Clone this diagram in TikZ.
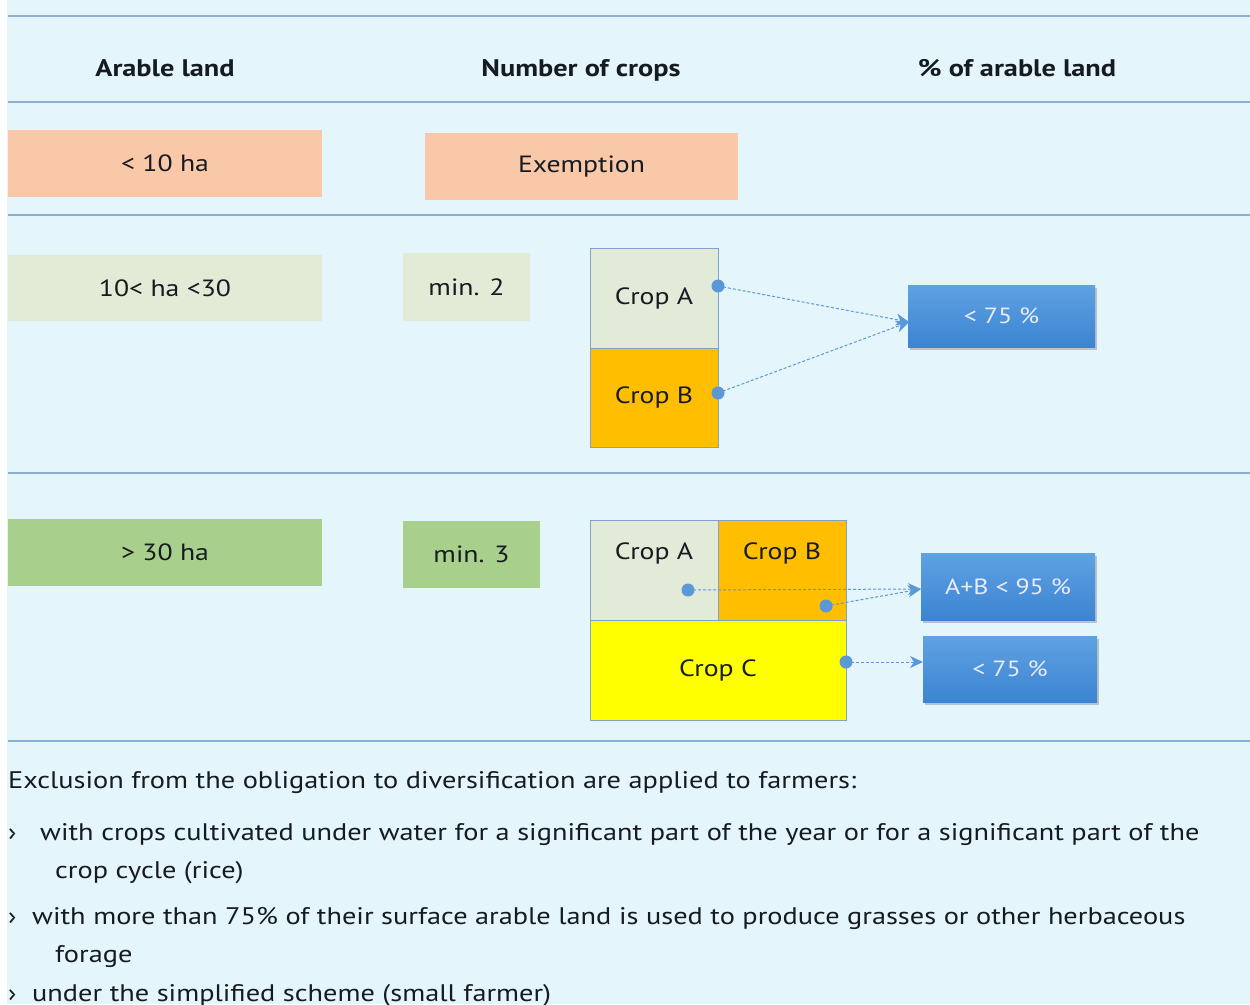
\documentclass[tikz,border=0pt]{standalone}
\usepackage{fontspec}
\setmainfont{PT Sans}[FakeStretch=1.18]
\usetikzlibrary{arrows.meta,shadows}

\definecolor{pagebg}{HTML}{E4F5FC}
\definecolor{rule}{HTML}{8CB0D2}
\definecolor{peach}{HTML}{F8C8A8}
\definecolor{palegreen}{HTML}{E2EBD6}
\definecolor{midgreen}{HTML}{A8D08C}
\definecolor{cropA}{HTML}{E2EAD8}
\definecolor{cropB}{HTML}{FFBF00}
\definecolor{cropC}{HTML}{FFFF00}
\definecolor{cropedge}{HTML}{7FA2C8}
\definecolor{bluetop}{HTML}{5FA2E2}
\definecolor{bluebot}{HTML}{3C84D2}
\definecolor{dotblue}{HTML}{5B98D8}
\definecolor{ink}{HTML}{161B22}

\tikzset{
  hrule/.style={draw=rule, line width=2pt},
  cell/.style={anchor=north west, inner sep=0pt, outer sep=0pt, font=\fontsize{23.5}{27}\selectfont, text=ink},
  cropbox/.style={cell, draw=cropedge, line width=1pt},
  pctbox/.style={anchor=north west, inner sep=0pt, outer sep=0pt,
    top color=bluetop, bottom color=bluebot, draw=none,
    drop shadow={shadow xshift=2pt, shadow yshift=-3pt, opacity=0.35, fill=black!60},
    text=white!92!blue, font=\fontsize{22}{26}\selectfont},
  dot/.style={circle, fill=dotblue, inner sep=0pt, minimum size=13pt},
  conn/.style={draw=dotblue, line width=1pt, dash pattern=on 3pt off 2pt,
    -{Stealth[length=13pt, width=12pt, inset=4pt]}},
  head/.style={font=\fontsize{24}{28}\selectfont\bfseries, text=ink},
  body/.style={anchor=base west, inner sep=0pt, font=\fontsize{24}{28}\selectfont, text=ink},
}

\begin{document}
\begin{tikzpicture}[x=1pt, y=-1pt]
  % page and clip
  \useasboundingbox (0,0) rectangle (1250,1004);
  \clip (0,0) rectangle (1250,1004);
  \fill[white] (0,0) rectangle (1250,1004);
  \fill[pagebg] (7,0) rectangle (1250,1004);

  % table rules
  \foreach \yy in {16,102,215,473,741}
    \draw[hrule] (8,\yy) -- (1250,\yy);

  % column headings
  \node[head, anchor=base] (h1) at (165,76) {Arable land};
  \node[head, anchor=base] (h2) at (581,76) {Number of crops};
  \node[head, anchor=base] (h3) at (1017,76) {\% of arable land};

  % row 1
  \node[cell, fill=peach, minimum width=314pt, minimum height=67pt] (r1a) at (8,130) {< 10 ha};
  \node[cell, fill=peach, minimum width=313pt, minimum height=67pt] (r1b) at (425,133) {Exemption};

  % row 2
  \node[cell, fill=palegreen, minimum width=314pt, minimum height=66pt] (r2a) at (8,255) {10< ha <30};
  \node[cell, fill=palegreen, minimum width=127pt, minimum height=68pt] (r2b) at (403,253) {min. 2};
  \node[cropbox, fill=cropA, minimum width=128pt, minimum height=100pt] (c2a) at (590,248) {Crop A};
  \node[cropbox, fill=cropB, minimum width=128pt, minimum height=99pt] (c2b) at (590,348) {Crop B};
  \node[pctbox, minimum width=187pt, minimum height=62pt] (p2) at (908,285) {< 75 \%};

  \node[dot] (d2a) at (718,286) {};
  \node[dot] (d2b) at (718,393) {};
  \coordinate (t2) at (909,322);
  \draw[conn] (d2a.center) -- (t2);
  \draw[conn] (d2b.center) -- (t2);

  % row 3
  \node[cell, fill=midgreen, minimum width=314pt, minimum height=67pt] (r3a) at (8,519) {> 30 ha};
  \node[cell, fill=midgreen, minimum width=137pt, minimum height=67pt] (r3b) at (403,521) {min. 3};
  \node[cropbox, fill=cropA, minimum width=128pt, minimum height=100pt, text depth=38pt] (c3a) at (590,520) {Crop A};
  \node[cropbox, fill=cropB, minimum width=128pt, minimum height=100pt, text depth=38pt] (c3b) at (718,520) {Crop B};
  \node[cropbox, fill=cropC, minimum width=256pt, minimum height=100pt] (c3c) at (590,620) {Crop C};
  \node[pctbox, minimum width=174pt, minimum height=67pt] (p3a) at (921,553) {A+B < 95 \%};
  \node[pctbox, minimum width=174pt, minimum height=66pt] (p3b) at (923,636) {< 75 \%};

  \node[dot] (d3a) at (688,590) {};
  \node[dot] (d3b) at (826,606) {};
  \node[dot] (d3c) at (846,662) {};
  \coordinate (t3a) at (921,589);
  \coordinate (t3c) at (923,662);
  \draw[conn] (d3a.center) -- (t3a);
  \draw[conn] (d3b.center) -- (t3a);
  \draw[conn] (d3c.center) -- (t3c);

  % notes below the table
  \node[body] (n0) at (8,788) {Exclusion from the obligation to diversification are applied to farmers:};
  \node[body] (b1) at (8,840) {›};
  \node[body] (n1) at (40,840) {with crops cultivated under water for a significant part of the year or for a significant part of the};
  \node[body] (n1b) at (55,878) {crop cycle (rice)};
  \node[body] (b2) at (8,924) {›};
  \node[body] (n2) at (32,924) {with more than 75\% of their surface arable land is used to produce grasses or other herbaceous};
  \node[body] (n2b) at (55,962) {forage};
  \node[body] (b3) at (8,1001) {›};
  \node[body] (n3) at (32,1001) {under the simplified scheme (small farmer)};
\end{tikzpicture}
\end{document}
